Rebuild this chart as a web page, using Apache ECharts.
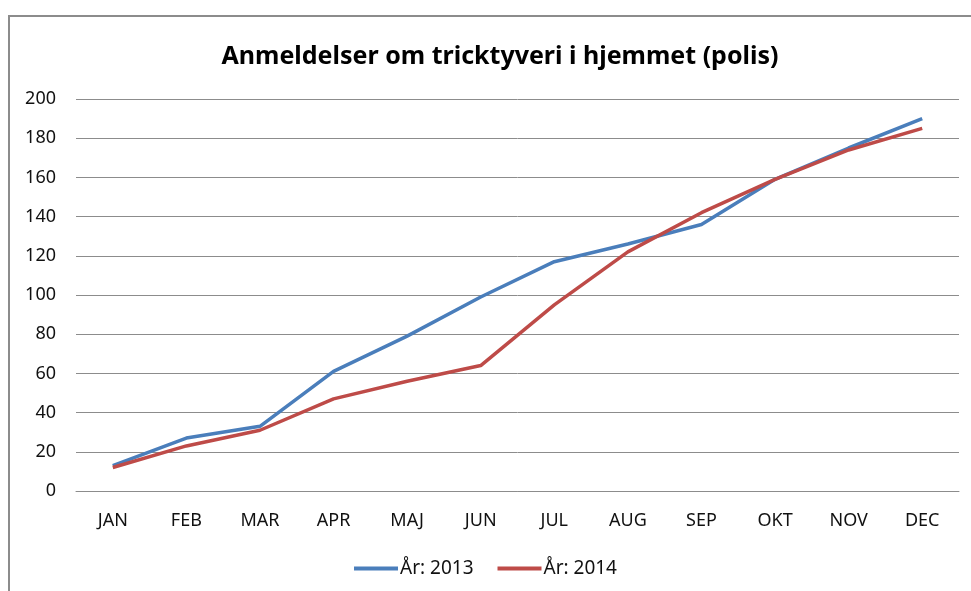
<!DOCTYPE html>
<html>
<head>
<meta charset="utf-8">
<script src="https://cdn.jsdelivr.net/npm/echarts@6/dist/echarts.min.js"></script>
<style>
  html, body { margin: 0; padding: 0; background: #fff; }
  #wrap { position: relative; width: 971px; height: 591px; overflow: hidden; }
  #frame { position: absolute; left: 8px; top: 15px; width: 980px; height: 600px; border: 2px solid #8c8c8c; box-sizing: border-box; }
  #chart { position: absolute; left: 0; top: 0; width: 971px; height: 591px; }
</style>
</head>
<body>
<div id="wrap">
  <div id="frame"></div>
  <div id="chart"></div>
</div>
<script>
// data
const months = ['JAN', 'FEB', 'MAR', 'APR', 'MAJ', 'JUN', 'JUL', 'AUG', 'SEP', 'OKT', 'NOV', 'DEC'];
const year2013 = [13, 27, 33, 61, 79, 99, 117, 126, 136, 159, 175, 190];
const year2014 = [12, 23, 31, 47, 56, 64, 95, 122, 142, 159, 174, 185];

const chart = echarts.init(document.getElementById('chart'));

const option = {
  animation: false,
  title: {
    text: 'Anmeldelser om tricktyveri i hjemmet (polis)',
    left: 495,
    textAlign: 'center',
    top: 39,
    textStyle: { fontFamily: 'Noto Sans', fontSize: 25, fontWeight: 'bold', color: '#000' }
  },
  legend: {
    bottom: 8,
    left: 'center',
    itemWidth: 44,
    itemHeight: 4,
    itemGap: 24,
    icon: 'rect',
    textStyle: { fontFamily: 'Noto Sans', fontSize: 19, color: '#111', padding: [0, 0, 0, -3] },
    data: ['År: 2013', 'År: 2014']
  },
  grid: { left: 76, right: 12, top: 99, bottom: 100 },
  xAxis: {
    type: 'category',
    data: months,
    boundaryGap: true,
    axisLine: { lineStyle: { color: '#8c8c8c', width: 1 } },
    axisTick: { show: false },
    axisLabel: { margin: 21, fontFamily: 'Noto Sans', fontSize: 18, color: '#111' }
  },
  yAxis: {
    type: 'value',
    min: 0,
    max: 200,
    interval: 20,
    axisLine: { show: false },
    axisTick: { show: false },
    axisLabel: { margin: 20, fontFamily: 'Noto Sans', fontSize: 18, color: '#111' },
    splitLine: { lineStyle: { color: '#8c8c8c', width: 1 } }
  },
  series: [
    {
      name: 'År: 2013',
      type: 'line',
      data: year2013,
      showSymbol: false,
      color: '#4a7ebb',
      lineStyle: { width: 3.5, color: '#4a7ebb' }
    },
    {
      name: 'År: 2014',
      type: 'line',
      data: year2014,
      showSymbol: false,
      color: '#be4b48',
      lineStyle: { width: 3.5, color: '#be4b48' }
    }
  ]
};

chart.setOption(option);
</script>
</body>
</html>
